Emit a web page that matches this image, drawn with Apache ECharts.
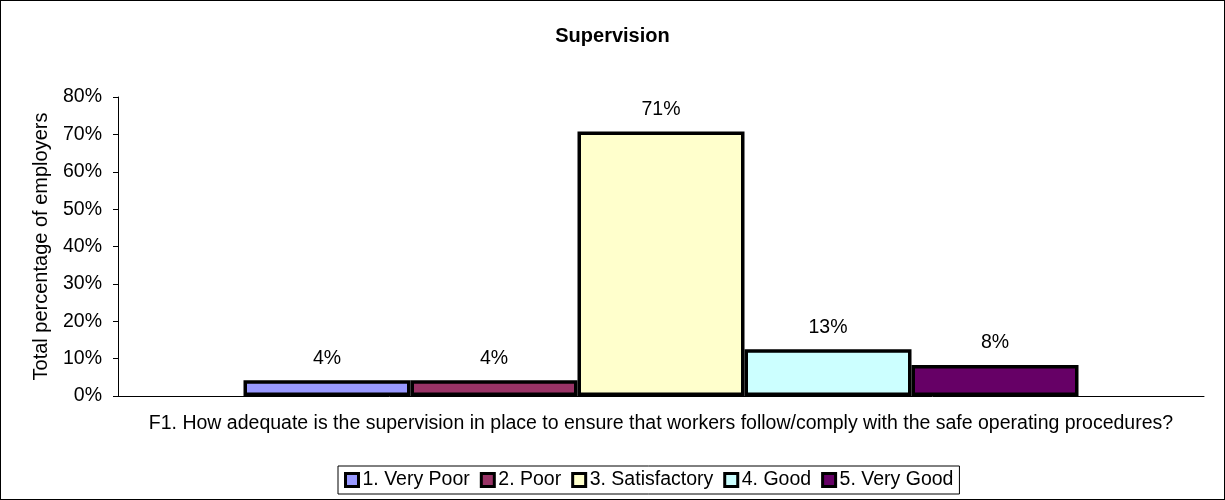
<!DOCTYPE html>
<html>
<head>
<meta charset="utf-8">
<script src="https://cdn.jsdelivr.net/npm/echarts@6/dist/echarts.min.js"></script>
<style>
  html, body { margin: 0; padding: 0; background: #fff; }
  #chart { width: 1225px; height: 500px; box-sizing: border-box; border: 1px solid #000; }
</style>
</head>
<body>
<div id="chart"></div>
<script>
// data
const categories = ['F1. How adequate is the supervision in place to ensure that workers follow/comply with the safe operating procedures?']
const seriesNames = ['1. Very Poor', '2. Poor', '3. Satisfactory', '4. Good', '5. Very Good']
const seriesValues = [4.2, 4.2, 70.8, 12.5, 8.3]
const seriesColors = ['#9999ff', '#993366', '#ffffcc', '#ccffff', '#660066']
const yTicks = [0, 10, 20, 30, 40, 50, 60, 70, 80]

const font = 'Liberation Sans, Arial, sans-serif'
const fs = 19.5
const chart = echarts.init(document.getElementById('chart'))

const series = seriesNames.map((name, i) => ({
  name: name,
  type: 'bar',
  barWidth: 167,
  barGap: '0%',
  data: [seriesValues[i]],
  itemStyle: {
    color: seriesColors[i],
    borderColor: '#000',
    borderWidth: 3.5
  },
  label: {
    show: true,
    position: 'top',
    distance: 12,
    color: '#000',
    fontFamily: font,
    fontSize: fs,
    formatter: p => Math.round(p.value) + '%'
  }
}))

chart.setOption({
  animation: false,
  backgroundColor: '#fff',
  title: {
    text: 'Supervision',
    left: 'center',
    top: 20,
    textStyle: { fontFamily: font, fontSize: 20, fontWeight: 'bold', color: '#000' }
  },
  grid: { left: 117, right: 20, top: 96, bottom: 103 },
  legend: {
    top: 465,
    left: 337,
    data: seriesNames,
    icon: 'rect',
    itemWidth: 13,
    itemHeight: 13,
    itemGap: 10,
    padding: [4, 6, 4, 6],
    borderColor: '#000',
    borderWidth: 1,
    borderRadius: 0,
    textStyle: { fontFamily: font, fontSize: fs, color: '#000', padding: [0, 0, 0, -1] },
    itemStyle: { borderColor: '#000', borderWidth: 3 }
  },
  xAxis: {
    type: 'category',
    data: categories,
    axisLine: { lineStyle: { color: '#000', width: 1 } },
    axisTick: { show: false },
    axisLabel: { color: '#000', fontFamily: font, fontSize: fs, margin: 18 }
  },
  yAxis: {
    type: 'value',
    min: 0,
    max: 80,
    interval: 10,
    name: 'Total percentage of employers',
    nameLocation: 'middle',
    nameGap: 67,
    nameTextStyle: { color: '#000', fontFamily: font, fontSize: 20 },
    axisLine: { show: true, lineStyle: { color: '#000', width: 1 } },
    axisTick: { show: true, length: 5, lineStyle: { color: '#000' } },
    splitLine: { show: false },
    axisLabel: {
      color: '#000',
      fontFamily: font,
      fontSize: fs,
      margin: 16,
      formatter: v => yTicks.includes(v) ? v + '%' : ''
    }
  },
  series: series
})
</script>
</body>
</html>
